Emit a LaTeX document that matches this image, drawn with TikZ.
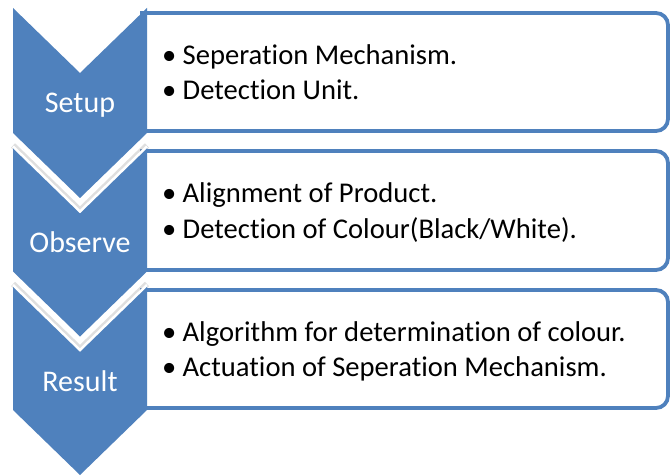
\documentclass[tikz,border=0pt]{standalone}
\usepackage{fontspec}
\setmainfont[Ligatures={NoCommon,NoRare}]{Carlito}
\definecolor{accblue}{HTML}{4F81BD}
\begin{document}
\begin{tikzpicture}[x=1pt,y=-1pt,
  chev/.style={fill=accblue},
  chevedge/.style={draw=white,line width=2.5pt,line join=miter},
  chevshadow/.style={draw=black!35,line width=6pt,opacity=0.35,line join=miter},
  listbox/.style={draw=accblue,fill=white,line width=3.8pt,rounded corners=12pt},
  lbl/.style={text=white,font=\fontsize{30}{36}\selectfont,anchor=base,inner sep=0pt},
  itm/.style={text=black,font=\fontsize{28.6}{35}\selectfont,anchor=base west,inner sep=0pt}
]
\useasboundingbox (0,0) rectangle (670,476);
\fill[white] (0,0) rectangle (670,476);
% boxes
\draw[listbox] (140,13) -- (668,13) -- (668,131) -- (140,131);
\draw[listbox] (140,151) -- (668,151) -- (668,270) -- (140,270);
\draw[listbox] (140,290) -- (668,290) -- (668,408) -- (140,408);
% chevrons
\foreach \t [count=\i] in {8,146.5,285}{
  \ifnum\i>1
    \draw[chevshadow] (13,\t-1) -- (80,\t+64) -- (147,\t-1);
  \fi
  \fill[chev] (13,\t) -- (80,\t+65) -- (147,\t) -- (147,\t+125) -- (80,\t+190) -- (13,\t+125) -- cycle;
  \ifnum\i>1
    \draw[chevedge] (13,\t) -- (80,\t+65) -- (147,\t);
  \fi
}
% labels
\node[lbl] (l1) at (80,113) {Setup};
\node[lbl] (l2) at (80,252) {Observe};
\node[lbl] (l3) at (80,391) {Result};
% items
\node[itm] (a1) at (162,64.5) {\makebox[20.5pt][l]{•}Seperation Mechanism.};
\node[itm] (a2) at (162,99.5) {\makebox[20.5pt][l]{•}Detection Unit.};
\node[itm] (b1) at (162,203) {\makebox[20.5pt][l]{•}Alignment of Product.};
\node[itm] (b2) at (162,238.5) {\makebox[20.5pt][l]{•}Detection of Colour(Black/White).};
\node[itm] (c1) at (162,341) {\makebox[20.5pt][l]{•}Algorithm for determination of colour.};
\node[itm] (c2) at (162,376.5) {\makebox[20.5pt][l]{•}Actuation of Seperation Mechanism.};
\end{tikzpicture}
\end{document}
